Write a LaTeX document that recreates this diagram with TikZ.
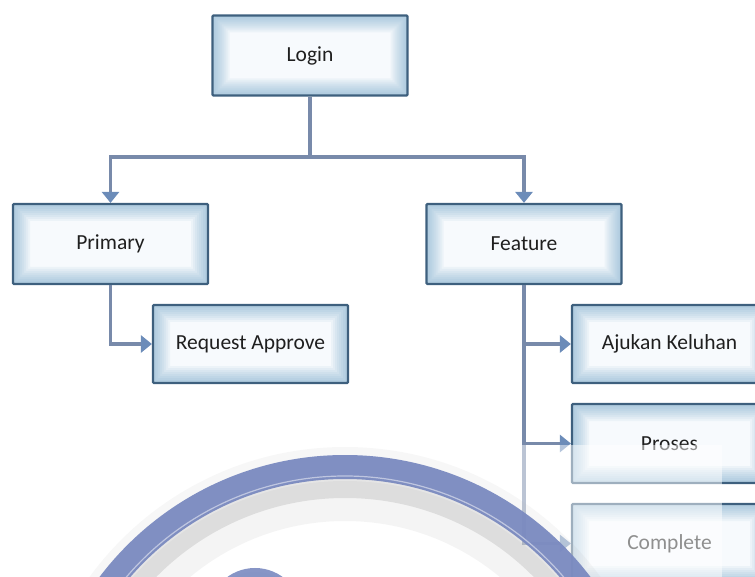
\documentclass[tikz,border=0pt]{standalone}
\usepackage{fontspec}
\setmainfont{Carlito}
\usetikzlibrary{arrows.meta}
\definecolor{boxborder}{RGB}{62,96,126}
\definecolor{glowcol}{RGB}{105,160,198}
\definecolor{boxcenter}{RGB}{247,250,253}
\definecolor{conncol}{RGB}{120,138,170}
\definecolor{tipcol}{RGB}{108,140,185}
\definecolor{ringcol}{RGB}{122,138,192}
\tikzset{
  box/.style={draw=boxborder, line width=2.2pt, fill=boxcenter, rounded corners=1pt,
    minimum width=195pt, minimum height=80pt, inner sep=0pt,
    font=\fontsize{21.5}{25}\selectfont, text=black!88,
    path picture={
      \foreach \w in {34,30,26,22,18,14,10,6}
        \draw[glowcol, line width=\w pt, opacity=0.075]
          (path picture bounding box.south west) rectangle (path picture bounding box.north east);
    }},
  conn/.style={draw=conncol, line width=3.2pt},
  arr/.style={conn, -{Triangle[width=17pt,length=11pt,color=tipcol]}},
}
\begin{document}
\begin{tikzpicture}[x=1pt,y=-1pt]
\useasboundingbox (0,0) rectangle (755,577);
\begin{scope}
\clip (0,0) rectangle (755,577);
\node[box] (login) at (310,55.5) {Login};
\node[box] (primary) at (110.5,244) {Primary};
\node[box, minimum height=78pt] (request) at (250.5,344) {Request Approve};
\node[box] (feature) at (524,244) {Feature};
\node[box, minimum height=78pt] (ajukan) at (669.5,344) {Ajukan Keluhan};
\node[box, minimum height=79pt] (proses) at (669.5,443.5) {Proses};
\node[box, minimum height=79pt] (complete) at (669.5,543.5) {Complete};
\coordinate (bus) at (310,157);
\draw[conn] (login.south) -- (bus);
\draw[arr] (bus) -| (primary.north);
\draw[arr] (bus) -| (feature.north);
\draw[arr] (primary.south) |- (request.west);
\draw[arr] (feature.south) |- (ajukan.west);
\draw[arr] (feature.south) |- (proses.west);
\draw[arr] (feature.south) |- (complete.west);
% faded watermark region
\begin{scope}
\clip (0,445) rectangle (722,577);
\fill[white, opacity=0.5] (0,445) rectangle (722,577);
\draw[black!40, line width=40pt, opacity=0.10] (345,763) circle [radius=262pt];
\draw[black!45, line width=22pt, opacity=0.22] (345,763) circle [radius=276pt];
\draw[black!30, line width=32pt, opacity=0.10] (345,763) circle [radius=300pt];
\draw[ringcol, line width=24pt, opacity=0.95] (345,763) circle [radius=296pt];
\draw[white, line width=1.2pt, opacity=0.5] (345,763) circle [radius=287pt];
\draw[black!40, line width=14pt, opacity=0.12] (255,615) circle [radius=36pt];
\draw[ringcol, line width=10pt, opacity=0.9] (255,615) circle [radius=42pt];
\end{scope}
\end{scope}
\end{tikzpicture}
\end{document}
